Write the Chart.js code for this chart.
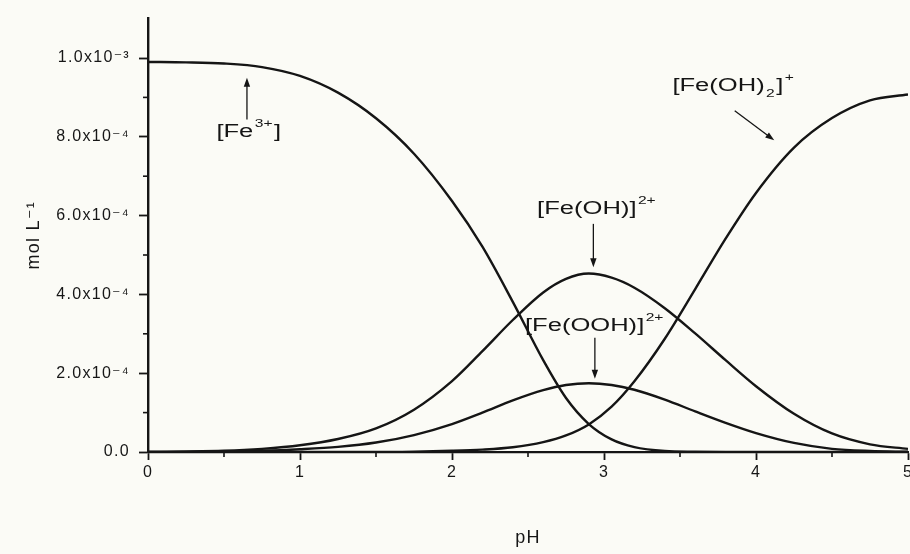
<!DOCTYPE html>
<html><head><meta charset="utf-8">
<script src="https://cdn.jsdelivr.net/npm/chart.js@4/dist/chart.umd.min.js"></script>
<style>
html,body{margin:0;padding:0;overflow:hidden;background:#fbfbf6;width:910px;height:554px}
#wrap{position:absolute;left:0;top:0;width:920px;height:554px}
</style></head>
<body><div id="wrap"><canvas id="c" width="920" height="554"></canvas></div>
<script>
// ---- data ----
const pH = [0,0.25,0.5,0.75,1,1.25,1.5,1.75,2,2.2,2.4,2.6,2.75,2.9,3.05,3.2,3.4,3.6,3.8,4,4.25,4.5,4.75,5];
// concentrations in mol/L
const fe3   = [9.90e-4,9.89e-4,9.86e-4,9.77e-4,9.545e-4,9.12e-4,8.47e-4,7.57e-4,6.37e-4,5.21e-4,3.81e-4,2.33e-4,1.37e-4,0.71e-4,0.32e-4,0.125e-4,0.025e-4,0.005e-4,0,0,0,0,0,0];
const feOH  = [0,0.01e-4,0.03e-4,0.08e-4,0.17e-4,0.33e-4,0.60e-4,1.075e-4,1.80e-4,2.56e-4,3.35e-4,4.05e-4,4.395e-4,4.53e-4,4.425e-4,4.17e-4,3.65e-4,3.01e-4,2.33e-4,1.67e-4,0.97e-4,0.47e-4,0.195e-4,0.08e-4];
const feOOH = [0,0.005e-4,0.01e-4,0.03e-4,0.07e-4,0.13e-4,0.24e-4,0.43e-4,0.71e-4,1.00e-4,1.31e-4,1.57e-4,1.70e-4,1.745e-4,1.70e-4,1.58e-4,1.33e-4,1.03e-4,0.74e-4,0.48e-4,0.23e-4,0.08e-4,0.025e-4,0.005e-4];
const feOH2 = [0,0,0,0,0,0,0,0.01e-4,0.03e-4,0.06e-4,0.12e-4,0.25e-4,0.42e-4,0.70e-4,1.15e-4,1.795e-4,2.875e-4,4.135e-4,5.415e-4,6.575e-4,7.725e-4,8.475e-4,8.925e-4,9.075e-4];

const yTickValues = [0,2e-4,4e-4,6e-4,8e-4,1e-3];
const yTickLabels = ['0.0','2.0x10\u207B\u2074','4.0x10\u207B\u2074','6.0x10\u207B\u2074','8.0x10\u207B\u2074','1.0x10\u207B\u00B3'];
const yMinorValues = [1e-4,3e-4,5e-4,7e-4,9e-4];
const xTickLabels = ['0','1','2','3','4','5'];
const xMinorValues = [0.5,1.5,2.5,3.5,4.5];

// annotation labels: text parts, anchored in data coordinates
const notes = [
  {x:0.45, y:8.11e-4, parts:[['[Fe',0],['3+',1],[']',0]], arrow:[0.651,8.44e-4,0.651,9.5e-4]},
  {x:2.56, y:6.17e-4, parts:[['[Fe(OH)]',0],['2+',1]], arrow:[2.93,5.79e-4,2.93,4.69e-4]},
  {x:2.48, y:3.20e-4, parts:[['[Fe(OOH)]',0],['2+',1]], arrow:[2.94,2.90e-4,2.94,1.86e-4]},
  {x:3.45, y:9.29e-4, parts:[['[Fe(OH)',0],['2',-1],[']',0],['+',1]], arrow:[3.86,8.66e-4,4.12,7.91e-4]}
];

const FONT = "'Liberation Sans', Arial, 'DejaVu Sans', sans-serif";
const INK = '#151515';

function series(vals){ return pH.map((p,i)=>({x:p,y:vals[i]})); }
function ds(vals){ return {data:series(vals), borderColor:INK, borderWidth:2.4, pointRadius:0, fill:false, cubicInterpolationMode:'monotone'}; }

const bgPlugin = {id:'bg', beforeDraw(chart){
  const c = chart.ctx; c.save(); c.fillStyle='#fbfbf6'; c.fillRect(0,0,chart.width,chart.height); c.restore();
  c.letterSpacing = '1.3px';
}};

const minorPlugin = {id:'minor', afterDraw(chart){
  const c = chart.ctx, xs = chart.scales.x, ys = chart.scales.y;
  c.save(); c.strokeStyle = INK; c.lineWidth = 1.6;
  yMinorValues.forEach(v=>{ const py = ys.getPixelForValue(v); c.beginPath(); c.moveTo(xs.left-5,py); c.lineTo(xs.left,py); c.stroke(); });
  xMinorValues.forEach(v=>{ const px = xs.getPixelForValue(v); c.beginPath(); c.moveTo(px,ys.bottom); c.lineTo(px,ys.bottom+5); c.stroke(); });
  c.restore();
}};

const notePlugin = {id:'notes', afterDraw(chart){
  const c = chart.ctx, xs = chart.scales.x, ys = chart.scales.y;
  c.save(); c.letterSpacing='0px';
  notes.forEach(n=>{
    const [ax1,ay1,ax2,ay2] = n.arrow;
    const x1=xs.getPixelForValue(ax1), y1=ys.getPixelForValue(ay1), x2=xs.getPixelForValue(ax2), y2=ys.getPixelForValue(ay2);
    const ang = Math.atan2(y2-y1,x2-x1), L=9, W=3.2;
    c.strokeStyle=INK; c.fillStyle=INK; c.lineWidth=1.3;
    c.beginPath(); c.moveTo(x1,y1); c.lineTo(x2-Math.cos(ang)*L*0.8,y2-Math.sin(ang)*L*0.8); c.stroke();
    c.beginPath(); c.moveTo(x2,y2);
    c.lineTo(x2-Math.cos(ang)*L-Math.sin(ang)*W, y2-Math.sin(ang)*L+Math.cos(ang)*W);
    c.lineTo(x2-Math.cos(ang)*L+Math.sin(ang)*W, y2-Math.sin(ang)*L-Math.cos(ang)*W);
    c.closePath(); c.fill();
    const px = xs.getPixelForValue(n.x), py = ys.getPixelForValue(n.y);
    c.save(); c.translate(px,py); c.scale(1.42,1);
    c.textBaseline='middle'; c.textAlign='left'; c.fillStyle=INK;
    let cx = 0;
    n.parts.forEach(([t,lvl])=>{
      if(lvl===0){ c.font = `18px ${FONT}`; c.fillText(t,cx,0); cx += c.measureText(t).width; }
      else { c.font = `11px ${FONT}`; const dy = lvl>0 ? -8 : 8; c.fillText(t,cx+1,dy); cx += c.measureText(t).width+2; }
    });
    c.restore();
  });
  c.restore();
}};

new Chart(document.getElementById('c'), {
  type:'line',
  data:{ datasets:[ds(fe3), ds(feOH), ds(feOOH), ds(feOH2)] },
  options:{
    responsive:false, animation:false, devicePixelRatio:1,
    layout:{padding:{top:15,right:12,left:0,bottom:0}},
    plugins:{legend:{display:false}, tooltip:{enabled:false}},
    scales:{
      x:{ type:'linear', min:0, max:5,
          afterFit(s){ s.height = 102; },
          grid:{display:true, drawOnChartArea:false, drawTicks:true, tickLength:8, tickColor:INK, tickWidth:1.8},
          border:{display:true, color:INK, width:2.2},
          ticks:{stepSize:1, padding:3, color:'#161616', font:{family:FONT, size:16}, callback:(v)=>{const i=Math.round(v); return Math.abs(v-i)<1e-9 ? xTickLabels[i] : '';}},
          title:{display:true, text:'pH', color:'#161616', font:{family:FONT, size:18}, padding:{top:0,bottom:5}}
      },
      y:{ type:'linear', min:0, max:1.1e-3,
          afterFit(s){ s.width = 148; },
          grid:{display:true, drawOnChartArea:false, drawTicks:true, tickLength:9, tickColor:INK, tickWidth:1.8},
          border:{display:true, color:INK, width:2.4},
          ticks:{stepSize:2e-4, includeBounds:false, padding:9, color:'#161616', font:{family:FONT, size:16},
                 callback:(v)=>{ const i = yTickValues.findIndex(t=>Math.abs(t-v)<1e-9); return i>=0 ? yTickLabels[i] : ''; }},
          title:{display:true, text:'mol L\u207B\u00B9', color:'#161616', font:{family:FONT, size:18}, padding:{top:23,bottom:0}}
      }
    }
  },
  plugins:[bgPlugin, minorPlugin, notePlugin]
});
</script>
</body></html>
